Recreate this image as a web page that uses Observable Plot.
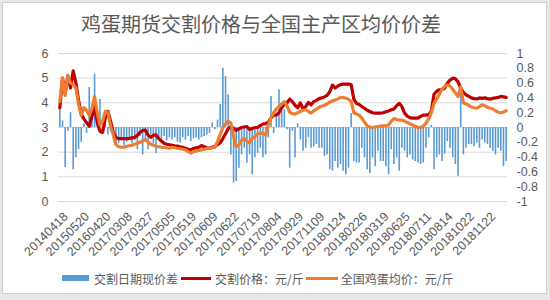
<!DOCTYPE html>
<html>
<head>
<meta charset="utf-8">
<script src="https://cdn.jsdelivr.net/npm/d3@7"></script>
<script src="https://cdn.jsdelivr.net/npm/@observablehq/plot@0.6"></script>
<style>
  html, body { margin: 0; padding: 0; background: #e8e8e8; width: 550px; height: 300px; overflow: hidden; }
  #card { position: absolute; left: 2px; top: 2px; width: 545px; height: 292px; background: #fff; border: 1px solid #d0d0d0; box-sizing: border-box; }
  #title { position: absolute; left: 0; top: 13px; width: 522px; text-align: center; font-family: "Noto Sans CJK SC"; font-size: 20px; line-height: 22px; color: #595959; }
  #chart { position: absolute; left: 0; top: 40px; }
  #legend { position: absolute; left: 62px; top: 271px; height: 14px; display: flex; align-items: center; font-family: "Noto Sans CJK SC"; font-size: 12px; color: #595959; white-space: nowrap; }
  .sw-bar { width: 27px; height: 6px; background: #5b9bd5; margin-right: 5px; }
  .sw-line { height: 3px; }
</style>
</head>
<body>
<div id="card"></div>
<div id="title">鸡蛋期货交割价格与全国主产区均价价差</div>
<div id="chart"></div>
<div id="legend"></div>
<script>
// ---- data ----
const tickLabels = ["20140418","20150520","20160420","20170308","20170327","20170505","20170519",
  "20170609","20170622","20170719","20170804","20170929","20171109","20180124","20180226",
  "20180319","20180625","20180711","20180814","20181022","20181122"];

// 交割价格：元/斤 (left axis)
const deliveryPrice = [
  3.8, 5.0, 4.4, 5.1, 4.6, 5.3, 4.8, 4.1,
  3.55, 3.35, 3.2, 3.05, 3.45, 3.85, 3.2, 2.85,
  2.8, 3.4, 3.65, 3.25, 2.8, 2.6, 2.55, 2.55,
  2.55, 2.55, 2.56, 2.58, 2.6, 2.68, 2.8, 2.88,
  2.9, 2.7, 2.6, 2.68, 2.7, 2.55, 2.45, 2.36,
  2.32, 2.3, 2.28, 2.26, 2.25, 2.22, 2.2, 2.16,
  2.12, 2.1, 2.15, 2.18, 2.2, 2.27, 2.22, 2.18,
  2.16, 2.2, 2.23, 2.3, 2.38, 2.55, 2.75, 2.95,
  3.03, 2.97, 2.88, 2.95, 3.0, 3.02, 3.04, 2.92,
  2.96, 3.0, 3.0, 3.08, 3.14, 3.16, 3.22, 3.38,
  3.5, 3.5, 3.6, 3.8, 3.95, 4.0, 4.15, 4.05,
  3.9, 3.8, 4.0, 3.75, 3.85, 4.02, 3.92, 4.05,
  4.1, 4.17, 4.2, 4.24, 4.3, 4.45, 4.72, 4.6,
  4.68, 4.74, 4.76, 4.76, 4.76, 4.74, 4.15, 3.98,
  3.93, 3.85, 3.78, 3.7, 3.65, 3.6, 3.58, 3.58,
  3.58, 3.6, 3.64, 3.67, 3.72, 3.75, 3.88, 3.98,
  3.85, 3.58, 3.46, 3.4, 3.38, 3.38, 3.38, 3.45,
  3.5, 3.5, 3.52, 3.66, 4.35, 4.47, 4.53, 4.54,
  4.6, 4.8, 4.92, 5.0, 4.98, 4.85, 4.6, 4.42,
  4.32, 4.26, 4.2, 4.17, 4.16, 4.2, 4.18, 4.2,
  4.17, 4.15, 4.18, 4.2, 4.22, 4.26, 4.24, 4.22
];

// 全国鸡蛋均价：元/斤 (left axis)
const nationalAvg = [
  4.05, 5.0, 4.3, 5.1, 4.8, 4.75, 4.6, 3.95,
  3.5, 3.8, 3.7, 3.5, 3.75, 4.25, 3.6, 3.1,
  3.25, 3.65, 3.6, 3.05, 2.7, 2.3, 2.22, 2.2,
  2.2, 2.24, 2.26, 2.28, 2.32, 2.36, 2.4, 2.46,
  2.5, 2.42, 2.32, 2.28, 2.24, 2.22, 2.2, 2.19,
  2.17, 2.16, 2.2, 2.18, 2.16, 2.14, 2.12, 2.09,
  2.02, 1.96, 2.02, 2.05, 2.07, 2.09, 2.12, 2.15,
  2.16, 2.18, 2.2, 2.42, 2.72, 3.0, 3.14, 3.26,
  3.18, 2.64, 2.22, 2.3, 2.48, 2.56, 2.45, 2.38,
  2.57, 2.64, 2.74, 2.77, 2.76, 2.7, 3.1, 3.4,
  3.6, 3.75, 3.85, 3.95, 4.05, 3.88, 3.62, 3.56,
  3.54, 3.6, 3.65, 3.7, 3.72, 3.65, 3.58, 3.68,
  3.74, 3.82, 3.86, 3.9, 3.95, 4.03, 4.07, 4.11,
  4.16, 4.22, 4.21, 4.19, 4.14, 4.05, 3.6, 3.55,
  3.5, 3.38, 3.22, 3.06, 3.02, 3.0, 3.02, 3.04,
  3.06, 3.07, 3.08, 3.1, 3.25, 3.36, 3.32, 3.3,
  3.3, 3.26, 3.2, 3.15, 3.1, 3.05, 3.0, 3.0,
  3.05, 3.18, 3.35, 3.6, 3.98, 4.15, 4.35, 4.55,
  4.67, 4.72, 4.68, 4.55, 4.4, 4.25, 4.65, 4.0,
  3.95, 3.9, 3.83, 3.8, 3.78, 3.85, 3.92, 3.88,
  3.82, 3.78, 3.75, 3.68, 3.62, 3.6, 3.63, 3.68
];

// 交割日期现价差 (right axis)
const spread = [
  0.27, 0.09, -0.54, -0.05, 0.2, -0.57, -0.41, -0.3,
  -0.2, 0.05, -0.08, 0.54, 0.15, 0.72, 0.12, 0.38,
  -0.05, 0.04, -0.1, -0.06, -0.15, -0.2, -0.22, -0.18,
  -0.25, -0.2, -0.15, -0.22, -0.18, -0.3, -0.12, -0.37,
  -0.2, -0.3, -0.1, -0.22, -0.35, -0.15, -0.2, -0.12,
  -0.18, -0.14, -0.17, -0.14, -0.2, -0.21, -0.14, -0.17,
  -0.12, -0.19, -0.15, -0.14, -0.17, -0.14, -0.12, -0.1,
  -0.08, 0.06, -0.03, 0.1, 0.31, 0.8, 0.69, 0.44,
  -0.37, -0.75, -0.73, -0.55, -0.37, -0.28, -0.48, -0.37,
  -0.64, -0.41, -0.35, -0.28, -0.41, -0.37, -0.14, 0.42,
  -0.08, 0.15, 0.51, 0.3, 0.24, -0.03, -0.55, -0.05,
  -0.41, 0.05, -0.17, -0.32, -0.28, -0.14, -0.28, -0.26,
  -0.23, -0.28, -0.28, -0.39, -0.37, -0.57, -0.59, -0.46,
  -0.55, -0.5, -0.59, -0.64, -0.55, 0.19, -0.46, -0.48,
  -0.48, -0.28, -0.41, -0.57, -0.62, -0.41, -0.53, -0.32,
  -0.46, -0.46, -0.53, -0.64, -0.3, -0.5, -0.41, -0.59,
  -0.28, -0.32, -0.41, -0.37, -0.44, -0.46, -0.48, -0.5,
  -0.48, -0.28, -0.14, 0.03, -0.57, -0.41, -0.37, -0.46,
  -0.36, -0.19, -0.28, -0.41, -0.5, -0.66, 0.53, -0.37,
  -0.28, -0.23, -0.23, -0.26, -0.21, -0.28, -0.17, -0.21,
  -0.23, -0.28, -0.32, -0.37, -0.28, -0.32, -0.53, -0.46
];

const leftTicks = [0, 1, 2, 3, 4, 5, 6];
const rightTicks = [1, 0.8, 0.6, 0.4, 0.2, 0, -0.2, -0.4, -0.6, -0.8, -1];
const labelEvery = 8;

const seriesNames = ["交割日期现价差", "交割价格：元/斤", "全国鸡蛋均价：元/斤"];
const colors = ["#5b9bd5", "#c00000", "#ed7d31"];

// ---- build ----
const N = deliveryPrice.length;
const rows = deliveryPrice.map((v, i) => ({ i, price: v, avg: nationalAvg[i], spread: spread[i] }));
// right axis [-1, 1] shares the frame with left axis [0, 6]
const rightToLeft = d3.scaleLinear().domain([-1, 1]).range([0, 6]);
const tickIdx = tickLabels.map((_, k) => k * labelEvery);
const font = "'Liberation Sans', Arial, sans-serif";

const chart = Plot.plot({
  width: 550,
  height: 222,
  marginLeft: 58,
  marginRight: 43,
  marginTop: 13,
  marginBottom: 61,
  x: { domain: [-0.5, N - 0.5], axis: null },
  y: { domain: [0, 6], axis: null },
  style: { fontFamily: font, fontSize: "12px", color: "#595959", background: "transparent", overflow: "visible" },
  marks: [
    Plot.gridY(leftTicks, { stroke: "#d9d9d9", strokeOpacity: 1, strokeWidth: 1 }),
    Plot.axisY(leftTicks, { anchor: "left", tickSize: 0, tickPadding: 10, fill: "#595959", fontSize: 12.5 }),
    Plot.axisY(rightTicks.map(d => rightToLeft(d)), {
      anchor: "right", tickSize: 0, tickPadding: 9, fill: "#595959", fontSize: 12.5,
      tickFormat: v => String(Math.round(rightToLeft.invert(v) * 10) / 10)
    }),
    Plot.ruleX(rows, { x: "i", y1: () => rightToLeft(0), y2: d => rightToLeft(d.spread), stroke: colors[0], strokeWidth: 1.6 }),
    Plot.line(rows, { x: "i", y: "price", stroke: colors[1], strokeWidth: 3.2, strokeLinejoin: "round" }),
    Plot.line(rows, { x: "i", y: "avg", stroke: colors[2], strokeWidth: 3.2, strokeLinejoin: "round" }),
    Plot.text(tickIdx, {
      x: d => d, frameAnchor: "bottom", text: d => tickLabels[d / labelEvery],
      rotate: -45, textAnchor: "end", lineAnchor: "middle", dx: 6, dy: 13,
      fill: "#595959", fontSize: 12.5
    })
  ]
});
document.getElementById("chart").appendChild(chart);

// legend
const lg = document.getElementById("legend");
const mk = (html) => { const t = document.createElement("template"); t.innerHTML = html.trim(); return t.content.firstChild; };
lg.appendChild(mk(`<div class="sw-bar"></div>`));
lg.appendChild(mk(`<span style="margin-right:3px">${seriesNames[0]}</span>`));
lg.appendChild(mk(`<div class="sw-line" style="width:30px;background:${colors[1]};margin-right:4px"></div>`));
lg.appendChild(mk(`<span style="margin-right:2px">${seriesNames[1]}</span>`));
lg.appendChild(mk(`<div class="sw-line" style="width:32px;background:${colors[2]};margin-right:3px"></div>`));
lg.appendChild(mk(`<span>${seriesNames[2]}</span>`));
</script>
</body>
</html>
